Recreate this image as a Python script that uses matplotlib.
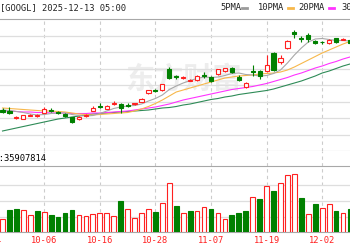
import numpy as np
import matplotlib.pyplot as plt
from matplotlib.lines import Line2D
from matplotlib.transforms import blended_transform_factory

W, H = 350, 250

# daily bars, 09-26 .. 12-08 (last one cut at the right edge)
opens = [245, 244.5, 237.5, 236.5, 239.5, 239, 242.5, 245.5, 243, 241.5,
         238, 236.5, 239, 244.5, 249.5, 246.5, 251.5, 250.7, 250.5, 251,
         253.3, 261.7, 265.5, 265, 286.5, 279.5, 277.5, 274.5, 275, 280,
         278, 281, 284, 287, 278.5, 268, 284, 284, 284, 302,
         293.5, 307, 323.5, 317.5, 320, 314.5, 313.5, 312, 317, 315.5, 315]
highs = [247, 248, 239, 240.5, 241.5, 241, 248, 247, 244, 242,
         238.5, 239, 241, 249, 252.5, 250, 254, 252, 252, 252.5,
         257, 265.5, 266.5, 271.5, 288, 280.5, 279.5, 276, 280, 283,
         279, 286.5, 287.5, 288, 280, 273, 290, 285, 300, 303,
         300, 315, 325, 319, 322, 315, 314, 316, 317.5, 317.5, 316]
lows = [242, 241, 236.5, 236, 239, 238, 242, 243, 241, 238,
        232, 235.5, 238, 244, 247, 246, 250.5, 242, 248, 250.5,
        253, 261, 263, 264.5, 276, 276, 276.5, 274, 274.5, 277,
        273, 280, 283.5, 282, 274.5, 267.5, 279, 276, 283, 284,
        291, 306.5, 317, 313, 313, 311, 311, 311, 312, 315, 311]
closes = [243.5, 242.5, 238.5, 240, 240.5, 240, 246.5, 244.5, 242, 239,
          233, 238, 240, 247.5, 248.5, 249, 252.5, 246.7, 249.5, 252,
          255.7, 265, 264.5, 271, 277, 278.5, 278.5, 275.5, 279, 279,
          274, 286, 287, 283, 275, 272, 283, 279, 290, 285,
          297.5, 314, 321, 316.5, 316, 312, 313, 315, 313, 316.5, 312.5]

# volume (millions) and whether the volume bar is drawn as an up day
vols = [12.7, 21.7, 23.4, 21.7, 17.4, 20.7, 20, 16.7, 14.7, 18.7,
        22.4, 17.4, 16, 18.4, 19, 19.4, 15.7, 31.4, 23.4, 14,
        19.4, 23.4, 19.7, 28.7, 49.4, 26, 19.4, 20.7, 20.7, 25.2,
        23.4, 19.5, 13.4, 17, 19, 21.4, 35.4, 33.4, 45.7, 41.4,
        49.4, 56.7, 58.4, 34.4, 18, 27.7, 24.4, 27.7, 20.7, 19.4, 22.7]
vol_up = [1, 0, 0, 1, 1, 0, 1, 0, 0, 0,
          0, 1, 1, 1, 1, 1, 1, 0, 1, 1,
          1, 1, 0, 1, 1, 0, 1, 0, 1, 1,
          0, 1, 1, 0, 0, 0, 1, 0, 1, 0,
          1, 1, 1, 0, 1, 0, 1, 1, 0, 1, 0]

# moving averages as drawn
ma5 = [245, 244.5, 243.5, 242.5, 241, 240, 240.5, 241.5, 242, 242,
       240.5, 239.5, 239, 239.5, 241.5, 244, 246.5, 248, 249, 249.5,
       251, 254, 256.5, 260, 265.5, 269, 272, 274.5, 276.5, 278,
       277.5, 278, 279.5, 281.5, 282, 280.5, 280, 279, 279.5, 281.5,
       285, 292, 300, 307, 313, 316, 316.5, 315.5, 314.5, 314.5, 314]
ma10 = [247, 246.5, 246, 245.5, 245, 244.5, 244, 244, 243.5, 243,
        242, 241, 240.5, 240, 240.5, 241, 241.5, 242, 242.5, 244,
        246, 248.5, 251.5, 255, 259, 263, 265, 267, 269, 271,
        273, 275, 277, 278, 279, 279.5, 280, 281, 281.5, 282,
        283, 285, 288, 291.5, 295, 298.5, 302, 305, 308, 311, 313.5]
ma20 = [244, 244, 243.5, 243, 243, 242.5, 242.5, 242, 242, 242,
        241.5, 241.5, 241.5, 242, 242, 242.5, 243, 243.5, 244, 245,
        246, 247, 248, 249.5, 251, 253, 255, 256.5, 258, 259.5,
        261, 262.5, 264, 265.5, 266.5, 267.5, 268.5, 270, 271.5, 273.5,
        275.5, 277.5, 280, 282, 284.5, 287, 289, 291.5, 293.5, 296, 298]
ma30 = [224, 225.5, 227, 228.5, 230, 231.5, 233, 234.5, 236, 237,
        238, 239, 240, 241, 241.5, 242, 242.5, 243, 243.5, 244,
        244.5, 245, 246, 247, 247.5, 248.5, 250, 251, 252.5, 254,
        255.5, 256.5, 258, 259, 260.5, 261.5, 262.5, 263.5, 264.5, 266,
        268, 270, 272, 274, 276.5, 279, 282, 284, 286.5, 289, 291]

tick_pos = [-2, 6, 14, 22, 30, 38, 46]
tick_lbl = ['09-24', '10-06', '10-16', '10-28', '11-07', '11-19', '12-02']

RED = '#ff2020'
GREEN = '#008000'
GRID = '#dedede'
EDGE = '#a8a8a8'
MONO = 'DejaVu Sans Mono'
FS = 6.3


def fx(x):
    return x / W


def fy(y):
    return 1 - y / H


fig = plt.figure(figsize=(3.5, 2.5), dpi=100)
fig.patch.set_facecolor('white')

ax = fig.add_axes([0, fy(150.5), 1, (150.5 - 19) / H])
band = fig.add_axes([0, fy(166), 1, (166 - 150.5) / H])
axv = fig.add_axes([0, fy(232), 1, (232 - 166) / H])

idx = np.arange(len(opens))
o = np.array(opens)
c = np.array(closes)
up = c >= o
XL = (-0.36, 50.0)

for a in (ax, band, axv):
    a.set_xlim(*XL)
    a.set_xticks([p for p in tick_pos if p >= 0])
    a.tick_params(length=0, labelleft=False, labelbottom=False)
    a.grid(True, axis='x', color='#cccccc', linestyle=(0, (3, 3)), linewidth=0.8)
    a.set_axisbelow(True)
    for s in a.spines.values():
        s.set_visible(False)

# price panel
ax.set_ylim(204.5, 336)
ax.set_yticks([319.5, 303, 286.5, 270, 253.5, 237, 220.5])
ax.grid(True, axis='y', color=GRID, linewidth=0.9)
ax.spines['top'].set_visible(True)
ax.spines['top'].set_color(EDGE)
ax.spines['bottom'].set_visible(True)
ax.spines['bottom'].set_color(EDGE)

ax.text(fx(183), fy(79), '东方财富', transform=fig.transFigure, fontsize=21,
        color='#ededed', ha='center', va='center', family='Noto Sans CJK SC',
        fontweight='bold', zorder=0)

ax.plot(idx, ma30, color='#2e8b57', lw=0.8, zorder=2)
ax.plot(idx, ma20, color='#ff33ff', lw=0.8, zorder=2)
ax.plot(idx, ma10, color='#f7b84b', lw=0.8, zorder=2)
ax.plot(idx, ma5, color='#a8a8a8', lw=0.8, zorder=2)

ccol = np.where(up, RED, GREEN)
ax.vlines(idx, lows, highs, colors=ccol, lw=0.8, zorder=3)
body = np.maximum(np.abs(c - o), 0.5)
ax.bar(idx, body, bottom=np.minimum(o, c), width=0.6,
       color=np.where(up, 'white', GREEN), edgecolor=ccol, linewidth=0.8, zorder=4)

# band with the volume readout
band.set_ylim(0, 1)
band.text(fx(46.5), 0.5, 'VOL:35907814', family=MONO, fontsize=FS,
          color='#000000', ha='right', va='center',
          transform=blended_transform_factory(fig.transFigure, band.transAxes))

# volume panel
axv.set_ylim(0, 66)
axv.set_yticks([15.2, 31, 46.8])
axv.grid(True, axis='y', color=GRID, linewidth=0.9)
axv.spines['top'].set_visible(True)
axv.spines['top'].set_color(EDGE)
axv.spines['bottom'].set_visible(True)
axv.spines['bottom'].set_color(EDGE)
vu = np.array(vol_up) == 1
vcol = np.where(vu, RED, GREEN)
axv.bar(idx, vols, width=0.68, color=np.where(vu, 'white', GREEN),
        edgecolor=vcol, linewidth=0.8, zorder=3)

for p, t in zip(tick_pos, tick_lbl):
    axv.text(p, -3.6, t, ha='center', va='top', family=MONO, fontsize=FS,
             color=RED, clip_on=False)

# header line
fig.text(fx(-0.5), fy(7.5), '[GOOGL] 2025-12-13 05:00', family=MONO, fontsize=FS,
         color='#222222', ha='left', va='center')
legend = [('5PMA', 220, '#9a9a9a', 242), ('10PMA', 258, '#f7b84b', 288),
          ('20PMA', 298, '#ff33ff', 329), ('30PMA', 341, None, None)]
for lab, x0, col, mx in legend:
    fig.text(fx(x0), fy(7.5), lab, family=MONO, fontsize=FS, color='#222222',
             ha='left', va='center')
    if col:
        fig.add_artist(Line2D([fx(mx), fx(mx + 5)], [fy(7.5), fy(7.5)],
                              transform=fig.transFigure, color=col, lw=2))

fig.savefig('out.png', dpi=100)
